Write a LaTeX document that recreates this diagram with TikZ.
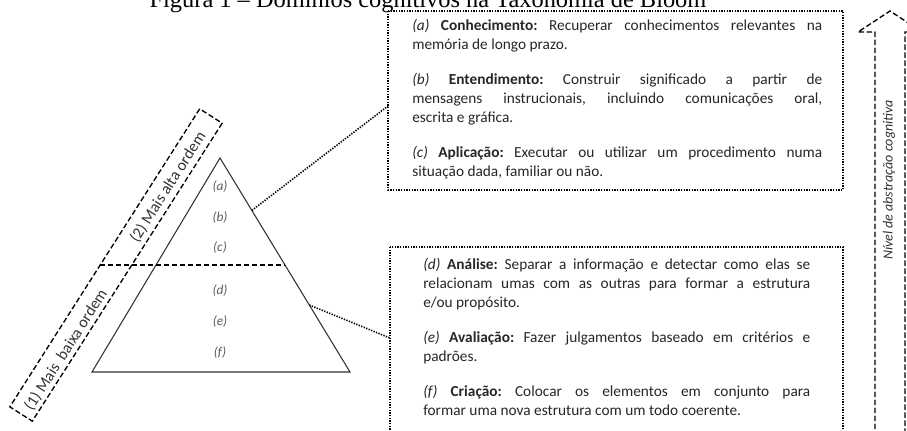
\documentclass[tikz,border=0pt]{standalone}
\usepackage{fontspec}
\setmainfont{Carlito}
\newfontfamily\titlefont{Liberation Serif}
\usetikzlibrary{calc}
\setlength{\parindent}{0pt}

\tikzset{
  dotbox/.style={line width=1.2pt, dash pattern=on 1pt off 1pt},
  dashbox/.style={line width=1pt, dash pattern=on 4pt off 2pt},
  lvl/.style={text=black!65, font=\fontsize{10}{11}\selectfont\itshape},
  desc/.style={anchor=north west, inner sep=0pt, align=justify, text=black!85,
    font=\fontsize{11.5}{14.25}\selectfont\frenchspacing\setlength{\parskip}{12pt}},
  band/.style={rotate=57.5, text=black!80, font=\fontsize{12}{13}\selectfont},
}

\begin{document}
\begin{tikzpicture}[x=0.75pt,y=-0.75pt]
\useasboundingbox (0,0) rectangle (907,430);
% title, cut off at the top
\node[anchor=base, font=\titlefont\fontsize{18.3}{20}\selectfont] (title) at (428,7)
  {Figura 1 – Domínios cognitivos na Taxonomia de Bloom};

% pyramid
\coordinate (top) at (220,158);
\coordinate (bl) at (92,372);
\coordinate (br) at (350,372);
\draw[black!80, line width=0.8pt] (top)--(br)--(bl)--cycle;
\foreach \l/\y in {a/187,b/218,c/248,d/291,e/322,f/353}
  \node[lvl] (lv\l) at (220,\y) {(\l)};

% split between the two orders
\coordinate (cut) at (100,265);
\coordinate (cutr) at ($(top)!0.5!(br)$);
\draw[dashbox] (cut)--(cutr);
\node[dashbox, draw, rotate=57.5, minimum width=265pt, minimum height=20pt] (ord) at (116,265) {};
\node[band] (hi) at (168,187) {(2) Mais alta ordem};
\node[band] (lo) at (66,350) {(1) Mais~~baixa ordem};

% upper box
\draw[dotbox] (388,11) rectangle (843,190);
\node[desc, text width=307.5pt] (up) at (412,19)
  {\textit{(a)} \textbf{Conhecimento:} Recuperar conhecimentos relevantes na\linebreak
   memória de longo prazo.\par
   \textit{(b)} \textbf{Entendimento:} Construir significado a partir de\linebreak
   mensagens instrucionais, incluindo comunicações oral,\linebreak
   escrita e gráfica.\par
   \textit{(c)} \textbf{Aplicação:} Executar ou utilizar um procedimento numa\linebreak
   situação dada, familiar ou não.};

% lower box
\draw[dotbox] (390,247) rectangle (843,445);
\node[desc, text width=290.25pt] (dn) at (423,258)
  {\textit{(d)} \textbf{Análise:} Separar a informação e detectar como elas se\linebreak
   relacionam umas com as outras para formar a estrutura\linebreak
   e/ou propósito.\par
   \textit{(e)} \textbf{Avaliação:} Fazer julgamentos baseado em critérios e\linebreak
   padrões.\par
   \textit{(f)} \textbf{Criação:} Colocar os elementos em conjunto para\linebreak
   formar uma nova estrutura com um todo coerente.};

% links from the pyramid to the boxes
\coordinate (s1) at ($(top)!0.245!(br)$);
\coordinate (s2) at ($(top)!0.687!(br)$);
\coordinate (k1) at (388,106);
\coordinate (k2) at (390,338);
\draw[dotbox] (s1)--(k1);
\draw[dotbox] (s2)--(k2);

% abstraction arrow
\draw[dashbox] (875,445)--(875,32)--(858,32)--(890,11)--(922,32)--(905,32)--(905,445);
\node[rotate=90, text=black!80, font=\fontsize{10.5}{12}\selectfont\itshape] (abs) at (889,180)
  {Nível de abstração cognitiva};
\end{tikzpicture}
\end{document}
